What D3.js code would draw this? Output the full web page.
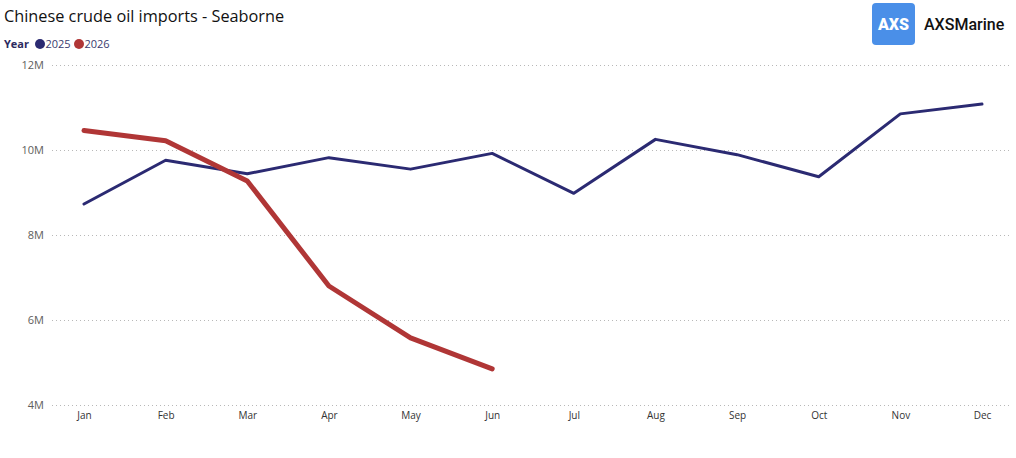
<!DOCTYPE html>
<html>
<head>
<meta charset="utf-8">
<script src="https://cdn.jsdelivr.net/npm/d3@7/dist/d3.min.js"></script>
<style>
  html, body { margin: 0; padding: 0; background: #fff; }
  svg { display: block; font-family: "Segoe UI", "Open Sans", "DejaVu Sans", sans-serif; }
</style>
</head>
<body>
<div id="chart"></div>
<script>
const months = ["Jan", "Feb", "Mar", "Apr", "May", "Jun", "Jul", "Aug", "Sep", "Oct", "Nov", "Dec"];
const years = ["2025", "2026"];
const imports2025 = [8.73, 9.76, 9.44, 9.82, 9.55, 9.92, 8.98, 10.25, 9.89, 9.37, 10.85, 11.08];
const imports2026 = [10.46, 10.22, 9.27, 6.80, 5.58, 4.85];
const yTicks = [4, 6, 8, 10, 12];

const width = 1016, height = 458;
const colors = { "2025": "#2b2a72", "2026": "#b03636" };
const strokeW = { "2025": 3, "2026": 5 };

const svg = d3.select("#chart").append("svg")
  .attr("width", width)
  .attr("height", height)
  .attr("viewBox", `0 0 ${width} ${height}`);

const x = d3.scalePoint().domain(months).range([84, 982]);
const y = d3.scaleLinear().domain([4, 12]).range([405, 65]);

// title
svg.append("text")
  .attr("x", 4).attr("y", 22)
  .attr("fill", "#111")
  .attr("font-size", "16.3")
  .text("Chinese crude oil imports - Seaborne");

// legend
const legend = svg.append("g").attr("transform", "translate(4, 48)");
legend.append("text")
  .attr("x", 0).attr("y", 0)
  .attr("fill", "#2b2a60")
  .attr("font-size", "11")
  .attr("font-weight", "bold")
  .text("Year");
years.forEach((yr, i) => {
  const ox = 36 + i * 39;
  legend.append("circle").attr("cx", ox).attr("cy", -4).attr("r", 5).attr("fill", colors[yr]);
  legend.append("text")
    .attr("x", ox + 5.5).attr("y", 0)
    .attr("fill", "#3a3a6e")
    .attr("font-size", "11")
    .text(yr);
});

// logo
const logo = svg.append("g");
logo.append("rect")
  .attr("x", 872).attr("y", 3).attr("width", 43).attr("height", 42)
  .attr("rx", 4).attr("fill", "#4a8fe8");
logo.append("text")
  .attr("x", 893.5).attr("y", 30)
  .attr("text-anchor", "middle")
  .attr("fill", "#fff")
  .attr("font-size", "16")
  .attr("font-weight", "900")
  .attr("font-family", "Roboto, Arial, sans-serif")
  .text("AXS");
logo.append("text")
  .attr("x", 924).attr("y", 30)
  .attr("fill", "#111")
  .attr("font-size", "16")
  .attr("font-weight", "500")
  .attr("font-family", "Roboto, Arial, sans-serif")
  .text("AXSMarine");

// y axis with dotted grid
svg.append("g")
  .attr("transform", "translate(52, 0)")
  .call(d3.axisLeft(y).tickValues(yTicks).tickSize(-958).tickPadding(8).tickFormat(d => d + "M"))
  .call(g => g.select(".domain").remove())
  .call(g => g.selectAll("line").attr("stroke", "#b8b8b8").attr("stroke-dasharray", "1 3"))
  .call(g => g.selectAll("text").attr("fill", "#605e5c").attr("font-size", "11")
    .attr("font-family", "'Segoe UI', 'Open Sans', 'DejaVu Sans', sans-serif"));

// x axis
svg.append("g")
  .attr("transform", "translate(0, 405)")
  .call(d3.axisBottom(x).tickSize(0).tickPadding(7))
  .call(g => g.select(".domain").remove())
  .call(g => g.selectAll("text").attr("fill", "#333").attr("font-size", "10")
    .attr("font-family", "'Segoe UI', 'Open Sans', 'DejaVu Sans', sans-serif"));

// lines
const line = d3.line()
  .x((d, i) => x(months[i]))
  .y(d => y(d));

[["2025", imports2025], ["2026", imports2026]].forEach(([yr, vals]) => {
  svg.append("path")
    .datum(vals)
    .attr("fill", "none")
    .attr("stroke", colors[yr])
    .attr("stroke-width", strokeW[yr])
    .attr("stroke-linejoin", "round")
    .attr("stroke-linecap", "round")
    .attr("d", line);
});
</script>
</body>
</html>
